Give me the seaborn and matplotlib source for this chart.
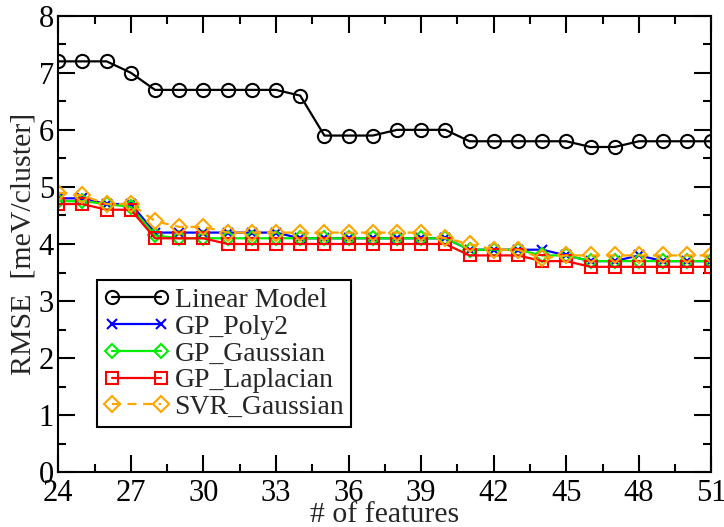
import matplotlib
matplotlib.use("Agg")
import matplotlib.pyplot as plt
from matplotlib.ticker import MultipleLocator
import seaborn as sns
import pandas as pd

features = list(range(24, 52))
linear_model = [7.2, 7.2, 7.2, 7.0, 6.7, 6.7, 6.7, 6.7, 6.7, 6.7, 6.6, 5.9, 5.9, 5.9,
                6.0, 6.0, 6.0, 5.8, 5.8, 5.8, 5.8, 5.8, 5.7, 5.7, 5.8, 5.8, 5.8, 5.8]
gp_poly2 = [4.8, 4.8, 4.7, 4.7, 4.2, 4.2, 4.2, 4.2, 4.2, 4.2, 4.1, 4.1, 4.1, 4.1,
            4.1, 4.1, 4.1, 3.9, 3.9, 3.9, 3.9, 3.8, 3.7, 3.7, 3.8, 3.7, 3.7, 3.7]
gp_gaussian = [4.75, 4.75, 4.7, 4.65, 4.15, 4.1, 4.1, 4.1, 4.1, 4.1, 4.1, 4.1, 4.1, 4.1,
               4.1, 4.1, 4.1, 3.9, 3.9, 3.9, 3.8, 3.8, 3.7, 3.7, 3.7, 3.7, 3.7, 3.7]
gp_laplacian = [4.7, 4.7, 4.6, 4.6, 4.1, 4.1, 4.1, 4.0, 4.0, 4.0, 4.0, 4.0, 4.0, 4.0,
                4.0, 4.0, 4.0, 3.8, 3.8, 3.8, 3.7, 3.7, 3.6, 3.6, 3.6, 3.6, 3.6, 3.6]
svr_gaussian = [4.9, 4.85, 4.7, 4.7, 4.4, 4.3, 4.3, 4.2, 4.2, 4.2, 4.2, 4.2, 4.2, 4.2,
                4.2, 4.2, 4.1, 4.0, 3.9, 3.9, 3.75, 3.8, 3.8, 3.8, 3.8, 3.8, 3.8, 3.8]

series_names = ["Linear Model", "GP_Poly2", "GP_Gaussian", "GP_Laplacian", "SVR_Gaussian"]
series_values = [linear_model, gp_poly2, gp_gaussian, gp_laplacian, svr_gaussian]
colors = ["black", "blue", "#00ee00", "red", "orange"]
markers = ["o", "x", "D", "s", "D"]
msizes = [9.5, 7, 7.5, 9, 8.5]
lstyles = ["-", "-", "-", "-", (0, (4, 3))]

sns.set_style("ticks")
plt.rcParams["font.family"] = ["Liberation Serif", "DejaVu Serif"]

fig = plt.figure(figsize=(7.24, 5.27), dpi=100)
ax = fig.add_axes([0.0805, 0.1038, 0.9022, 0.8664])

for name, vals, c, m, ms, ls in zip(series_names, series_values, colors, markers, msizes, lstyles):
    df = pd.DataFrame({"features": features, "rmse": vals})
    sns.lineplot(data=df, x="features", y="rmse", ax=ax, color=c, marker=m,
                 markersize=ms, markeredgecolor=c, markerfacecolor="none",
                 markeredgewidth=1.5, linewidth=1.6, linestyle=ls, label=name)

ax.set_xlim(24, 51)
ax.set_ylim(0, 8)
ax.xaxis.set_major_locator(MultipleLocator(3))
ax.xaxis.set_minor_locator(MultipleLocator(1.5))
ax.yaxis.set_major_locator(MultipleLocator(1))
ax.yaxis.set_minor_locator(MultipleLocator(0.5))
ax.tick_params(which="both", direction="in", top=True, right=True, width=1.5,
               labelsize=22, colors="black")
ax.tick_params(which="major", length=12)
ax.tick_params(which="minor", length=6)
ax.tick_params(axis="x", pad=5)
ax.tick_params(axis="y", pad=3)
for sp in ax.spines.values():
    sp.set_visible(True)
    sp.set_linewidth(1.5)
    sp.set_color("black")

ax.set_xlabel("# of features", fontsize=21.5, labelpad=-4.5)
ax.set_ylabel("RMSE  [meV/cluster]", fontsize=21.5, labelpad=2)

leg = ax.legend(loc="lower left", bbox_to_anchor=(0.059, 0.099), borderaxespad=0,
                fontsize=20, handlelength=2.35, handletextpad=0.2, labelspacing=0.05,
                borderpad=0.25, frameon=True, fancybox=False, numpoints=2)
leg.get_frame().set_edgecolor("black")
leg.get_frame().set_linewidth(1.5)
leg.get_frame().set_alpha(1)

fig.savefig("out.png", dpi=100)
